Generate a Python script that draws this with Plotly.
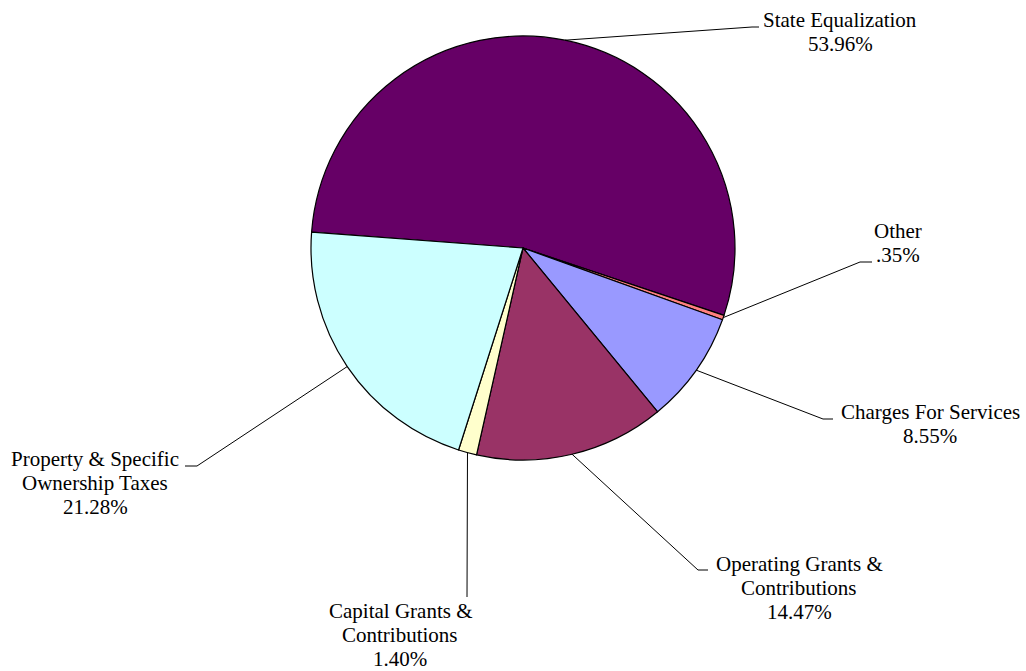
import math
import plotly.graph_objects as go

# ---- data ----
categories = [
    "State Equalization",
    "Other",
    "Charges For Services",
    "Operating Grants & Contributions",
    "Capital Grants & Contributions",
    "Property & Specific Ownership Taxes",
]
values = [53.96, 0.35, 8.55, 14.47, 1.40, 21.28]
label_lines = [
    ["State Equalization"],
    ["Other"],
    ["Charges For Services"],
    ["Operating Grants &", "Contributions"],
    ["Capital Grants &", "Contributions"],
    ["Property & Specific", "Ownership Taxes"],
]
colors = ["#660066", "#FF8080", "#9999FF", "#993366", "#FFFFCC", "#CCFFFF"]


def pct_text(v):
    s = f"{v:.2f}%"
    return s[1:] if s.startswith("0") else s


# ---- layout constants (pixels) ----
W, H = 1026, 671
CX, CY, R = 523, 248, 212
ROT = 274.3
FONT = "Liberation Serif, Times New Roman, serif"
FS = 21
LINE_H = 24.2

# label centre x, first-line centre y, elbow point, end point
label_layout = [
    dict(x=840, y=20, elbow=(752, 27), end=(759, 27)),
    dict(x=898, y=231, elbow=(860, 262), end=(872, 262)),
    dict(x=930, y=412, elbow=(823, 419), end=(833, 419)),
    dict(x=799, y=564, elbow=(698, 570), end=(708, 570)),
    dict(x=400, y=611, elbow=(467, 597), end=(467, 597)),
    dict(x=95, y=459, elbow=(197, 466), end=(185, 466)),
]


def px(x):
    return x / W


def py(y):
    return 1 - y / H


fig = go.Figure(
    go.Pie(
        labels=categories,
        values=values,
        sort=False,
        direction="clockwise",
        rotation=ROT,
        marker=dict(colors=colors, line=dict(color="#000000", width=1.2)),
        textinfo="none",
        hoverinfo="label+percent",
        showlegend=False,
        domain=dict(x=[px(CX - R), px(CX + R)], y=[py(CY + R), py(CY - R)]),
    )
)

total = sum(values)
cum = 0.0
annotations = []
shapes = []
for i, v in enumerate(values):
    mid = math.radians(ROT + 360.0 * (cum + v / 2.0) / total)
    cum += v
    sx = CX + R * math.sin(mid)
    sy = CY - R * math.cos(mid)
    lay = label_layout[i]
    ex, ey = lay["elbow"]
    tx, ty = lay["end"]
    shapes.append(
        dict(
            type="path",
            xref="paper",
            yref="paper",
            path=f"M {px(sx)},{py(sy)} L {px(ex)},{py(ey)} L {px(tx)},{py(ty)}",
            line=dict(color="#000000", width=1),
        )
    )
    lines = label_lines[i] + [pct_text(v)]
    for j, t in enumerate(lines):
        annotations.append(
            dict(
                x=px(lay["x"]),
                y=py(lay["y"] + j * LINE_H),
                xref="paper",
                yref="paper",
                text=t,
                showarrow=False,
                xanchor="center",
                yanchor="middle",
                font=dict(family=FONT, size=FS, color="#000000"),
            )
        )

fig.update_layout(
    width=W,
    height=H,
    margin=dict(l=0, r=0, t=0, b=0),
    paper_bgcolor="#FFFFFF",
    plot_bgcolor="#FFFFFF",
    annotations=annotations,
    shapes=shapes,
)

fig.write_html(
    "out.html",
    config={"displayModeBar": False},
    post_script="document.body.style.margin='0';document.body.style.overflow='hidden';",
)
